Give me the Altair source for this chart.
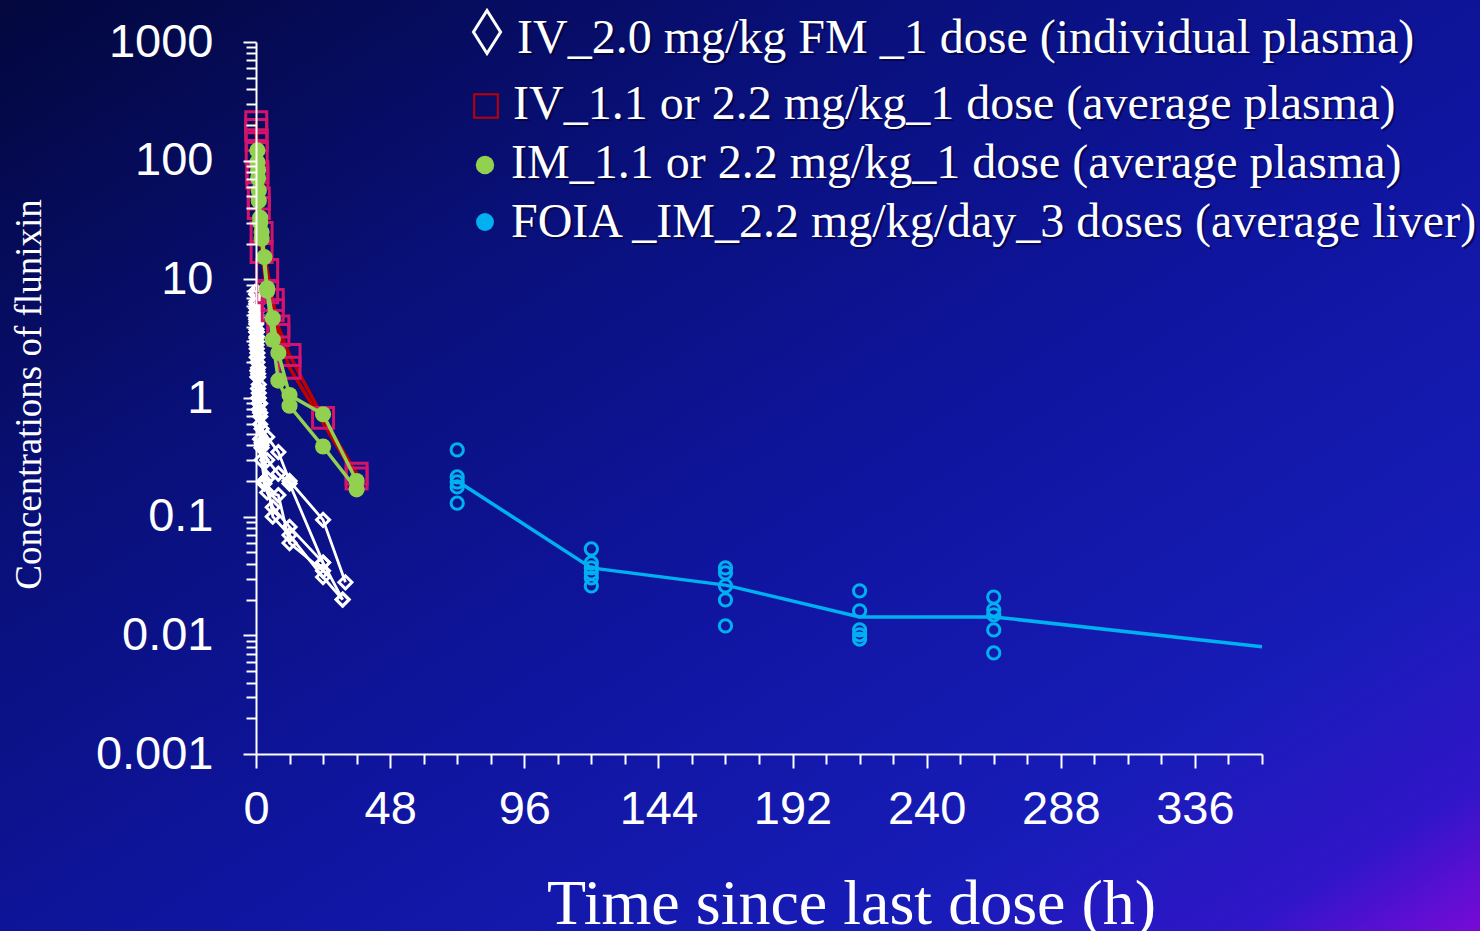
import altair as alt
import pandas as pd

# ---------------- data ----------------
# IV 2.0 mg/kg FM, 1 dose, individual plasma (white diamonds)
fm1_t = [0.05, 0.083, 0.167, 0.25, 0.5, 0.75, 1, 1.5, 2, 4, 8, 12, 24, 32]
fm1_v = [7.5, 5.7, 4.4, 3.6, 2.4, 1.8, 1.3, 0.9, 0.55, 0.47, 0.35, 0.2, 0.094, 0.028]
fm2_t = [0.05, 0.083, 0.167, 0.25, 0.5, 0.75, 1, 1.5, 2, 4, 8, 12, 24, 31]
fm2_v = [6.2, 5.0, 3.8, 3.0, 2.0, 1.5, 1.1, 0.75, 0.42, 0.3, 0.23, 0.19, 0.041, 0.02]
fm3_t = [0.05, 0.083, 0.167, 0.25, 0.5, 0.75, 1, 1.5, 2, 4, 6, 12, 24, 31]
fm3_v = [5.3, 4.2, 3.2, 2.6, 1.7, 1.2, 0.9, 0.6, 0.4, 0.21, 0.1, 0.07, 0.031, 0.02]
fm4_t = [0.05, 0.083, 0.167, 0.25, 0.5, 0.75, 1, 1.5, 2, 3, 4, 8, 12, 24]
fm4_v = [4.6, 3.6, 2.8, 2.2, 1.5, 1.0, 0.8, 0.45, 0.3, 0.2, 0.16, 0.152, 0.06, 0.035]
fm5_t = [0.05, 0.083, 0.167, 0.25, 0.5, 0.75, 1, 1.5, 2, 3, 6, 12, 24]
fm5_v = [8.0, 6.5, 4.8, 3.3, 2.2, 1.6, 1.0, 0.7, 0.38, 0.19, 0.12, 0.082, 0.041]

# IV 1.1 or 2.2 mg/kg, 1 dose, average plasma (squares, red line)
iv22_t = [0.083, 0.25, 0.5, 1, 2, 4, 6, 8, 12, 24, 36]
iv22_v = [211, 149, 80, 48, 24.6, 12, 6.7, 4.0, 2.3, 0.68, 0.23]
iv11_t = [0.083, 0.25, 0.5, 1, 2, 4, 6, 8, 12, 36]
iv11_v = [181, 116, 72, 40, 17, 7.8, 5.5, 3.4, 1.8, 0.21]

# IM 1.1 or 2.2 mg/kg, 1 dose, average plasma (green dots)
im22_t = [0.5, 0.75, 1, 1.5, 2, 3, 4, 6, 8, 12, 24, 36]
im22_v = [122, 83, 56, 33, 25, 15.4, 8.4, 4.7, 2.4, 1.06, 0.73, 0.2]
im11_t = [0.5, 0.75, 1, 1.5, 2, 4, 6, 8, 12, 24, 36]
im11_v = [97, 71, 46, 30, 22, 8.0, 3.1, 1.4, 0.86, 0.39, 0.17]

# FOIA IM 2.2 mg/kg/day, 3 doses, liver (open circles + average line)
liver_t = [72] * 5 + [120] * 6 + [168] * 5 + [216] * 5 + [264] * 5
liver_v = [0.365, 0.216, 0.196, 0.178, 0.130,
           0.0534, 0.0407, 0.037, 0.0336, 0.0305, 0.0261,
           0.037, 0.0336, 0.0261, 0.0199, 0.012,
           0.0237, 0.0161, 0.0111, 0.0101, 0.0093,
           0.021, 0.0164, 0.0149, 0.0111, 0.0071]
liver_avg_t = [72, 120, 168, 216, 264, 360]
liver_avg_v = [0.2, 0.037, 0.0265, 0.0143, 0.0143, 0.008]

legend_labels = [
    "IV_2.0 mg/kg FM _1 dose (individual plasma)",
    "IV_1.1 or 2.2 mg/kg_1 dose (average plasma)",
    "IM_1.1 or 2.2 mg/kg_1 dose (average plasma)",
    "FOIA _IM_2.2 mg/kg/day_3 doses (average liver)",
]

x_ticks = list(range(0, 361, 12))
y_major = [0.001, 0.01, 0.1, 1, 10, 100, 1000]
y_ticks = sorted(set([round(m * 10 ** e, 6) for e in range(-3, 3) for m in range(1, 10)] + y_major))

# ---------------- frames ----------------
fm_rows = []
for name, ts, vs in [("A1", fm1_t, fm1_v), ("A2", fm2_t, fm2_v), ("A3", fm3_t, fm3_v),
                     ("A4", fm4_t, fm4_v), ("A5", fm5_t, fm5_v)]:
    fm_rows += [{"id": name, "t": t, "v": v} for t, v in zip(ts, vs)]
fm = pd.DataFrame(fm_rows)

iv = pd.DataFrame([{"id": "2.2", "t": t, "v": v} for t, v in zip(iv22_t, iv22_v)] +
                  [{"id": "1.1", "t": t, "v": v} for t, v in zip(iv11_t, iv11_v)])
im = pd.DataFrame([{"id": "2.2", "t": t, "v": v} for t, v in zip(im22_t, im22_v)] +
                  [{"id": "1.1", "t": t, "v": v} for t, v in zip(im11_t, im11_v)])
liver = pd.DataFrame({"t": liver_t, "v": liver_v})
liver_avg = pd.DataFrame({"t": liver_avg_t, "v": liver_avg_v})

W, H = 1006, 712
PADL, PADT = 256, 42

xaxis = alt.Axis(
    values=x_ticks,
    labelExpr="datum.value % 48 == 0 ? datum.label : ''",
    title="Time since last dose (h)",
    titleFont="Liberation Serif", titleFontSize=64, titleFontWeight="normal",
    titleColor="white", titleX=595, titleY=169, titleBaseline="alphabetic",
    titleAlign="center",
    labelFont="Liberation Sans", labelFontSize=47, labelColor="white",
    labelPadding=18, labelBaseline="top", labelFlush=False, labelOverlap=False,
    tickSize={"condition": {"test": "datum.value % 48 == 0", "value": 14}, "value": 10},
    tickColor="white", tickWidth=2, domainColor="white", domainWidth=2,
    grid=False, zindex=1,
)
yaxis = alt.Axis(
    values=y_ticks,
    labelExpr="indexof([0.001,0.01,0.1,1,10,100,1000], datum.value) >= 0 ? format(datum.value, '~g') : ''",
    title="Concentrations of flunixin",
    titleFont="Liberation Serif", titleFontSize=37, titleFontWeight="normal",
    titleColor="white", titleX=-216, titleY=352, titleAngle=-90,
    titleBaseline="alphabetic", titleAlign="center",
    labelFont="Liberation Sans", labelFontSize=47, labelColor="white",
    labelPadding=30, labelFlush=False, labelOverlap=False,
    tickSize={"condition": {"test": "indexof([0.001,0.01,0.1,1,10,100,1000], datum.value) >= 0", "value": 13}, "value": 10},
    tickColor="white", tickWidth=2, domainColor="white", domainWidth=2,
    grid=False, zindex=1,
)
xs = alt.Scale(domain=[0, 360], nice=False, zero=False)
ys = alt.Scale(type="log", domain=[0.001, 1000], nice=False)

X = alt.X("t:Q", scale=xs, axis=xaxis)
Y = alt.Y("v:Q", scale=ys, axis=yaxis)

one = pd.DataFrame({"a": [0]})

bg = alt.Chart(one).mark_rect(
    color=alt.LinearGradient(
        gradient="linear", x1=0, y1=0, x2=1, y2=1,
        stops=[
            alt.GradientStop(offset=0, color="#03073d"),
            alt.GradientStop(offset=0.3, color="#09107a"),
            alt.GradientStop(offset=0.55, color="#0f159e"),
            alt.GradientStop(offset=0.8, color="#181cb8"),
            alt.GradientStop(offset=0.92, color="#3016c8"),
            alt.GradientStop(offset=1, color="#780ad8"),
        ],
    )
).encode(x=alt.value(-PADL), x2=alt.value(1480 - PADL), y=alt.value(-PADT), y2=alt.value(931 - PADT))

fm_line = alt.Chart(fm).mark_line(color="white", strokeWidth=2.8).encode(x=X, y=Y, detail="id:N")
fm_pts = alt.Chart(fm).mark_point(shape="diamond", filled=False, color="white", strokeWidth=3, size=170, opacity=1).encode(x=X, y=Y)

iv_line = alt.Chart(iv).mark_line(color="#c00000", strokeWidth=3.5).encode(x=X, y=Y, detail="id:N")
iv_pts = alt.Chart(iv).mark_point(shape="square", filled=False, color="#d3146c", strokeWidth=3, size=440, opacity=1).encode(x=X, y=Y)

im_line = alt.Chart(im).mark_line(color="#92d050", strokeWidth=3.5).encode(x=X, y=Y, detail="id:N")
im_pts = alt.Chart(im).mark_point(shape="circle", filled=True, color="#92d050", size=260, opacity=1).encode(x=X, y=Y)

lv_line = alt.Chart(liver_avg).mark_line(color="#00b0f0", strokeWidth=3.5).encode(x=X, y=Y)
lv_pts = alt.Chart(liver).mark_point(shape="circle", filled=False, color="#00b0f0", strokeWidth=3, size=150, opacity=1).encode(x=X, y=Y)

# legend (manual, top right)
leg_sym_x = [487, 486, 485, 485]
leg_sym_y = [32, 106, 165, 222]
leg_txt_x = [517, 513, 511, 511]
leg_txt_y = [53, 119, 178, 237]

sym_layers = [
    alt.Chart(one).mark_point(shape="M0,-1L0.63,0L0,1L-0.63,0Z", filled=False, color="white",
                              strokeWidth=3, size=1850, opacity=1),
    alt.Chart(one).mark_point(shape="square", filled=False, color="#c00000", strokeWidth=2,
                              size=560, opacity=1),
    alt.Chart(one).mark_point(shape="circle", filled=True, color="#92d050", size=340, opacity=1),
    alt.Chart(one).mark_point(shape="circle", filled=True, color="#00b0f0", size=320, opacity=1),
]
legend_layers = []
for i, s in enumerate(sym_layers):
    legend_layers.append(s.encode(x=alt.value(leg_sym_x[i] - PADL), y=alt.value(leg_sym_y[i] - PADT)))
for i, lab in enumerate(legend_labels):
    legend_layers.append(
        alt.Chart(one).mark_text(text=lab, align="left", baseline="alphabetic", font="Liberation Serif",
                                 fontSize=48, color="#000028", opacity=0.55)
        .encode(x=alt.value(leg_txt_x[i] - PADL + 2), y=alt.value(leg_txt_y[i] - PADT + 2))
    )
    legend_layers.append(
        alt.Chart(one).mark_text(text=lab, align="left", baseline="alphabetic", font="Liberation Serif",
                                 fontSize=48, color="white")
        .encode(x=alt.value(leg_txt_x[i] - PADL), y=alt.value(leg_txt_y[i] - PADT))
    )

chart = alt.layer(
    bg, fm_line, fm_pts, iv_line, iv_pts, im_line, im_pts, lv_line, lv_pts, *legend_layers
).properties(
    width=W, height=H,
    autosize=alt.AutoSizeParams(type="none"),
    padding={"left": PADL, "top": PADT, "right": 1480 - PADL - W, "bottom": 931 - PADT - H},
    background="#0a1070",
).configure_view(stroke=None)

chart.save("out.html", embed_options={"renderer": "svg", "actions": False})
